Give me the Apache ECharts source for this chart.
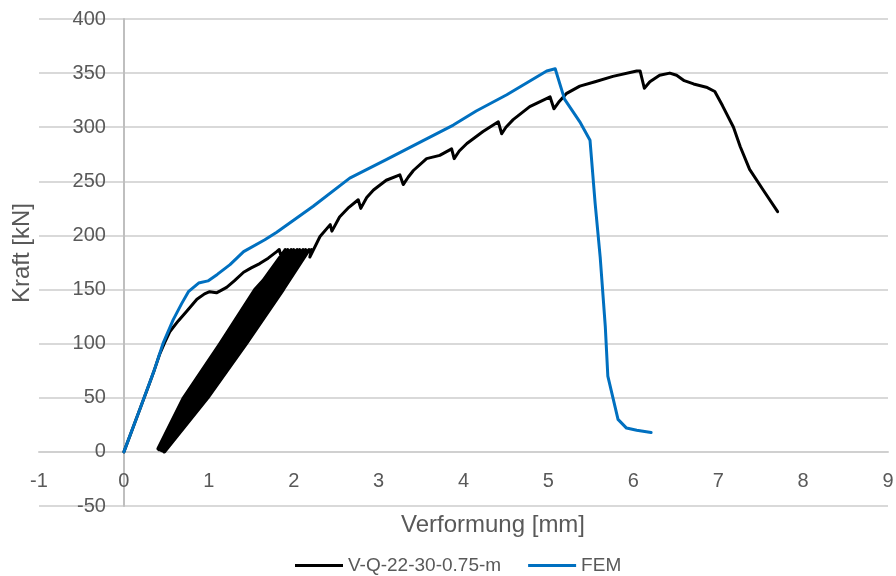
<!DOCTYPE html>
<html>
<head>
<meta charset="utf-8">
<script src="https://cdn.jsdelivr.net/npm/echarts@6/dist/echarts.min.js"></script>
<style>html,body{margin:0;padding:0;background:#fff;}#c{width:896px;height:576px;}</style>
</head>
<body>
<div id="c"></div>
<script>
// Tick / axis settings
var xTicks = [-1, 0, 1, 2, 3, 4, 5, 6, 7, 8, 9];
var yTicks = [-50, 0, 50, 100, 150, 200, 250, 300, 350, 400];
var seriesNames = ['V-Q-22-30-0.75-m', 'FEM'];

// Experimental curve: initial loading envelope
var expEnvelope = [[0,0],[0.1,21],[0.2,42],[0.3,63],[0.36,76],[0.42,90],[0.48,101],[0.54,111],[0.64,121],[0.74,130],[0.86,141],[0.95,146],[1.01,148],[1.09,147],[1.14,149],[1.21,152],[1.3,158],[1.41,166],[1.5,170],[1.6,174],[1.7,179],[1.8,185],[1.83,187],[1.86,178]];

// Experimental curve: unloading / reloading cycles
var expCycles = [[1.84,176],[1.54,150],[1.13,100],[0.70,50],[0.40,3],
[0.41,2],[0.77,50],[1.21,100],[1.63,150],[1.90,187],
[1.89,186],[1.56,150],[1.15,100],[0.72,50],[0.40,3],
[0.42,2],[0.80,50],[1.24,100],[1.66,150],[1.93,187],
[1.92,186],[1.58,150],[1.17,100],[0.73,50],[0.41,2],
[0.43,2],[0.83,50],[1.27,100],[1.69,150],[1.97,187],
[1.96,186],[1.60,150],[1.19,100],[0.75,50],[0.41,3],
[0.44,2],[0.86,50],[1.30,100],[1.73,150],[2.00,187],
[1.99,186],[1.63,150],[1.21,100],[0.77,50],[0.42,3],
[0.45,2],[0.88,50],[1.33,100],[1.75,150],[2.04,187],
[2.03,186],[1.65,150],[1.23,100],[0.79,50],[0.42,2],
[0.45,1],[0.90,50],[1.35,100],[1.78,150],[2.07,187],
[2.06,186],[1.68,150],[1.26,100],[0.82,50],[0.43,3],
[0.46,1],[0.93,50],[1.38,100],[1.81,150],[2.11,187],
[2.10,186],[1.70,150],[1.28,100],[0.84,50],[0.44,2],
[0.47,1],[0.95,50],[1.40,100],[1.83,150],[2.14,187],
[2.13,186],[1.73,150],[1.31,100],[0.86,50],[0.45,2],
[0.47,0],[0.97,50],[1.42,100],[1.86,150],[2.18,187],
[2.17,186],[1.76,150],[1.33,100],[0.89,50],[0.46,2],
[0.48,0],[0.99,50],[1.445,100],[1.88,150],[2.17,185],[2.21,187]];

// Experimental curve: continued loading and failure
var expPost = [[2.19,180],[2.31,199],[2.43,210],[2.45,204],[2.54,217],[2.65,226],[2.76,233],[2.79,225],[2.86,235],[2.94,242],[3.09,251],[3.25,256],[3.29,247],[3.35,254],[3.41,260],[3.565,271],[3.72,274],[3.86,280],[3.89,271],[3.95,278],[4.04,285],[4.23,296],[4.41,305],[4.45,294],[4.5,300],[4.585,307],[4.78,319],[5.02,328],[5.065,317],[5.12,323],[5.21,331],[5.37,338],[5.55,342],[5.76,347],[6.04,352],[6.08,352],[6.13,336],[6.195,342],[6.31,348],[6.43,350],[6.51,348],[6.6,343],[6.71,340],[6.86,337],[6.96,333],[7.05,320],[7.18,300],[7.26,282],[7.37,261],[7.53,242],[7.70,222]];

// FEM curve
var femData = [[0,0],[0.2,42],[0.36,76],[0.46,100],[0.58,122],[0.68,137],[0.76,148],[0.88,156],[0.99,158],[1.1,164],[1.25,173],[1.41,185],[1.66,196],[1.80,203],[2.23,227],[2.66,253],[3.09,270],[3.41,283],[3.88,302],[4.15,315],[4.51,330],[4.98,352],[5.08,354],[5.19,326],[5.37,305],[5.49,288],[5.55,230],[5.61,180],[5.67,116],[5.70,70],[5.82,30],[5.92,22],[6.04,20],[6.21,18]];

var expData = expEnvelope.concat(expCycles, expPost);

var FONT = 'Liberation Sans, Arial, sans-serif';
var TXT = '#595959';

var W = 896, H = 576;
var G = {left: 39, right: 8, top: 19, bottom: 70};
var xMin = xTicks[0], xMax = xTicks[xTicks.length - 1];
var yMin = yTicks[0], yMax = yTicks[yTicks.length - 1];
var plotW = W - G.left - G.right, plotH = H - G.top - G.bottom;
// shift axes so they sit at the zero of the other axis (labels follow)
var yAxisOffset = -((0 - xMin) / (xMax - xMin)) * plotW;
var xAxisOffset = -((0 - yMin) / (yMax - yMin)) * plotH;

var chart = echarts.init(document.getElementById('c'), null, {renderer: 'canvas'});
chart.setOption({
  animation: false,
  backgroundColor: '#ffffff',
  grid: {left: G.left, right: G.right, top: G.top, bottom: G.bottom, containLabel: false, outerBoundsMode: 'none'},
  xAxis: {
    type: 'value', min: xMin, max: xMax, interval: 1, position: 'bottom', offset: xAxisOffset,
    axisLine: {show: true, onZero: false, lineStyle: {color: '#d0d0d0', width: 2}},
    axisTick: {show: false},
    splitLine: {show: false},
    axisLabel: {color: TXT, fontFamily: FONT, fontSize: 20, margin: 20}
  },
  yAxis: {
    type: 'value', min: yMin, max: yMax, interval: 50, position: 'left', offset: yAxisOffset,
    axisLine: {show: true, onZero: false, lineStyle: {color: '#bfbfbf', width: 2}},
    axisTick: {show: false},
    splitLine: {show: true, lineStyle: {color: '#d9d9d9', width: 2}},
    axisLabel: {color: TXT, fontFamily: FONT, fontSize: 20, margin: 18}
  },
  legend: {
    left: 290, top: 551, icon: 'rect', itemWidth: 48, itemHeight: 3, itemGap: 27,
    textStyle: {color: TXT, fontFamily: FONT, fontSize: 19},
    data: seriesNames
  },
  graphic: [
    {type: 'text', x: 22, y: 253, rotation: Math.PI / 2,
     style: {text: 'Kraft [kN]', fill: TXT, font: '24px ' + FONT, textAlign: 'center', textVerticalAlign: 'middle'}},
    {type: 'text', x: 493, y: 525,
     style: {text: 'Verformung [mm]', fill: TXT, font: '24px ' + FONT, textAlign: 'center', textVerticalAlign: 'middle'}}
  ],
  series: [
    {name: seriesNames[0], type: 'line', data: expData, symbol: 'none', smooth: false,
     lineStyle: {color: '#000000', width: 3, join: 'round', cap: 'round'}, itemStyle: {color: '#000000'}},
    {name: seriesNames[1], type: 'line', data: femData, symbol: 'none', smooth: false,
     lineStyle: {color: '#0070c0', width: 3, join: 'round', cap: 'round'}, itemStyle: {color: '#0070c0'}}
  ]
});
</script>
</body>
</html>
